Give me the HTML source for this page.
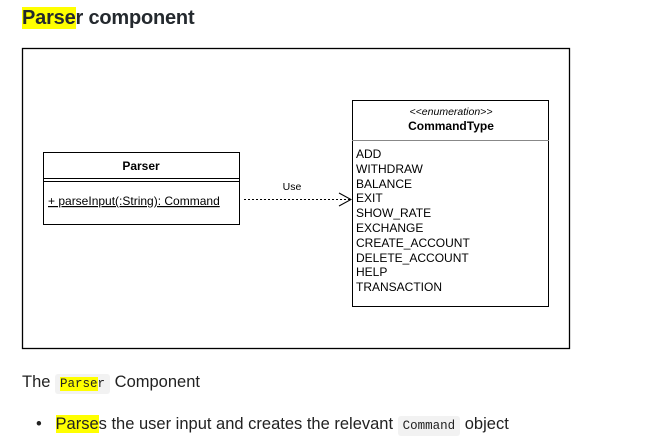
<!DOCTYPE html>
<html><head><meta charset="utf-8"><style>
body{margin:0;background:#fff;width:667px;height:443px;position:relative;overflow:hidden;font-family:"Liberation Sans","DejaVu Sans",sans-serif;color:#222}
.t{position:absolute;white-space:nowrap}
.hl{background:#ff0}
code{font-family:"Liberation Mono",monospace;font-size:12.5px;background:#f2f2f2;border-radius:3px;padding:3px 5px}
</style></head><body>
<div class="t" style="left:22px;top:7px;font-size:20px;font-weight:bold;color:#24292e;letter-spacing:-0.2px"><span class="hl">Parse</span>r component</div>
<svg style="position:absolute;left:0;top:0" width="667" height="443">
<rect x="22.5" y="48.5" width="547" height="300" fill="#fff" stroke="#000" stroke-width="1.3"/>
<rect x="43.5" y="152.5" width="196" height="72" fill="#fff" stroke="#000"/>
<line x1="43" y1="178.5" x2="240" y2="178.5" stroke="#000"/>
<line x1="43" y1="181.5" x2="240" y2="181.5" stroke="#000"/>
<text x="141" y="170" font-size="12" font-weight="bold" text-anchor="middle" font-family="Liberation Sans,sans-serif">Parser</text>
<text x="48" y="205" font-size="12" text-decoration="underline" font-family="Liberation Sans,sans-serif">+ parseInput(:String): Command</text>
<line x1="244" y1="199.5" x2="350" y2="199.5" stroke="#000" stroke-dasharray="2,2"/>
<polyline points="339,193 351,199.5 339,206" fill="none" stroke="#000"/>
<text x="292" y="190" font-size="10.5" text-anchor="middle" font-family="Liberation Sans,sans-serif">Use</text>
<rect x="352.5" y="100.5" width="196" height="206" fill="#fff" stroke="#000"/>
<line x1="352" y1="140.5" x2="549" y2="140.5" stroke="#888"/>
<text x="451" y="115" font-size="10.5" font-style="italic" text-anchor="middle" font-family="Liberation Sans,sans-serif">&lt;&lt;enumeration&gt;&gt;</text>
<text x="451" y="130" font-size="12" font-weight="bold" text-anchor="middle" font-family="Liberation Sans,sans-serif">CommandType</text>
<g font-size="12" font-family="Liberation Sans,sans-serif">
<text x="356" y="158">ADD</text>
<text x="356" y="173">WITHDRAW</text>
<text x="356" y="188">BALANCE</text>
<text x="356" y="202">EXIT</text>
<text x="356" y="217">SHOW_RATE</text>
<text x="356" y="232">EXCHANGE</text>
<text x="356" y="247">CREATE_ACCOUNT</text>
<text x="356" y="262">DELETE_ACCOUNT</text>
<text x="356" y="276">HELP</text>
<text x="356" y="291">TRANSACTION</text>
</g>
</svg>
<div class="t" style="left:22px;top:373px;font-size:16.5px">The <code><span class="hl">Parse</span>r</code> Component</div>
<div class="t" style="left:36px;top:415px;font-size:16.5px">•&nbsp;&nbsp;&nbsp;<span class="hl">Parse</span>s the user input and creates the relevant <code>Command</code> object</div>
</body></html>
